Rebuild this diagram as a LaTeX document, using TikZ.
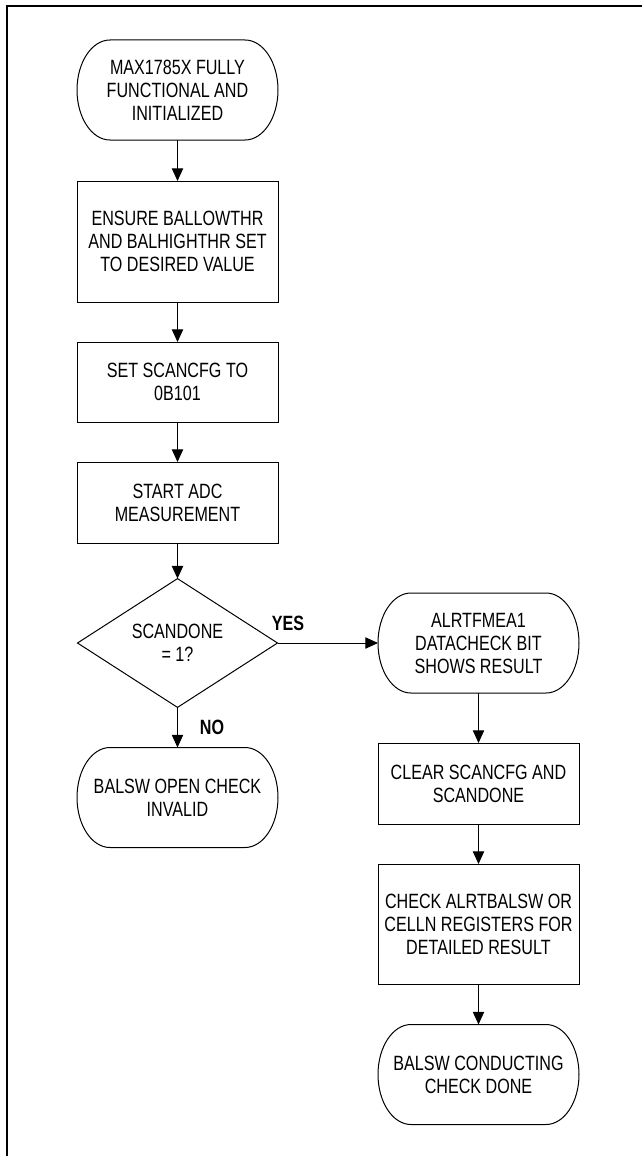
\documentclass[tikz,border=0pt]{standalone}
\usepackage{fontspec}
\setmainfont{Liberation Sans}[FakeStretch=0.78]
\usetikzlibrary{arrows.meta,shapes.geometric}
\newcommand{\flowfont}{\fontsize{15.5pt}{17.25pt}\selectfont}
\tikzset{
  term/.style={minimum width=150.75pt,minimum height=75pt,inner sep=2pt,
               outer sep=0pt,align=center,font=\flowfont},
  proc/.style={draw,line width=.75pt,minimum width=150.75pt,inner sep=2pt,
               outer sep=0pt,align=center,font=\flowfont},
  dec/.style ={draw,diamond,line width=.75pt,minimum width=150pt,
               minimum height=89.25pt,inner sep=0pt,outer sep=0pt,
               align=center,font=\flowfont},
  ar/.style  ={-{Triangle[length=9.5pt,width=8.5pt]},line width=.75pt},
  lbl/.style ={font=\flowfont\bfseries},
}

\begin{document}
\begin{tikzpicture}[x=.75pt,y=-.75pt]
  \useasboundingbox (0,0) rectangle (642,1156);
  \draw[line width=1.5pt] (7,1156) |- (642,6);
  % main column
  \node[term] (start) at (177.5,90) {MAX1785X FULLY\\FUNCTIONAL AND\\INITIALIZED};
  \node[proc,minimum height=90.75pt] (thr) at (177.5,241.5)
        {ENSURE BALLOWTHR\\AND BALHIGHTHR SET\\TO DESIRED VALUE};
  \node[proc,minimum height=60pt] (cfg) at (177.5,382) {SET SCANCFG TO\\0B101};
  \node[proc,minimum height=60.75pt] (adc) at (177.5,502.5) {START ADC\\MEASUREMENT};
  \node[dec] (done) at (177.5,643) {SCANDONE\\= 1?};
  \node[term] (inval) at (177.5,797.5) {BALSW OPEN CHECK\\INVALID};
  % yes branch
  \node[term] (alrt) at (478.5,643) {ALRTFMEA1\\DATACHECK BIT\\SHOWS RESULT};
  \node[proc,minimum height=60.75pt] (clr) at (478.5,783.5) {CLEAR SCANCFG AND\\SCANDONE};
  \node[proc,minimum height=90pt] (chk) at (478.5,924)
        {CHECK ALRTBALSW OR\\CELLN REGISTERS FOR\\DETAILED RESULT};
  \node[term] (fin) at (478.5,1074.5) {BALSW CONDUCTING\\CHECK DONE};

  \foreach \t in {start,inval,alrt,fin}
    \draw[line width=.75pt] ([xshift=24.75pt]\t.north west) -- ([xshift=-24.75pt]\t.north east)
      arc[start angle=90,end angle=-90,x radius=24.75pt,y radius=37.5pt]
      -- ([xshift=24.75pt]\t.south west)
      arc[start angle=270,end angle=90,x radius=24.75pt,y radius=37.5pt] -- cycle;

  \draw[ar] (start) -- (thr);
  \draw[ar] (thr) -- (cfg);
  \draw[ar] (cfg) -- (adc);
  \draw[ar] (adc) -- (done);
  \draw[ar] (done) -- (inval);
  \draw[ar] (done) -- (alrt);
  \draw[ar] (alrt) -- (clr);
  \draw[ar] (clr) -- (chk);
  \draw[ar] (chk) -- (fin);

  \node[lbl] (yes) at (288,623) {YES};
  \node[lbl] (no) at (212,727) {NO};
\end{tikzpicture}
\end{document}
